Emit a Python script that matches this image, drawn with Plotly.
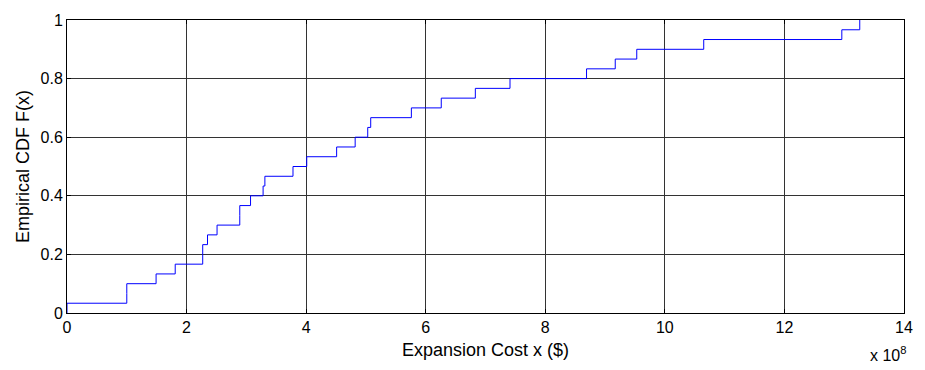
import numpy as np
import plotly.graph_objects as go

# Sampled expansion costs, in units of 1e8 $
costs = [0.0, 1.00, 1.00, 1.49, 1.81, 2.27, 2.27, 2.35, 2.51, 2.89, 2.89,
         3.07, 3.28, 3.31, 3.78, 4.01, 4.51, 4.82, 5.03, 5.08, 5.76, 6.26,
         6.83, 7.41, 8.69, 9.17, 9.53, 10.65, 12.96, 13.26]

x_ticks = [0, 2, 4, 6, 8, 10, 12, 14]
y_ticks = [0, 0.2, 0.4, 0.6, 0.8, 1]
y_tick_text = ["0", "0.2", "0.4", "0.6", "0.8", "1"]

# Empirical CDF as a staircase: F = 0 at the minimum, then k/n after each sample
xs = np.sort(np.asarray(costs))
n = len(xs)
stair_x = np.concatenate([[xs[0]], xs])
stair_y = np.concatenate([[0.0], np.arange(1, n + 1) / n])

font = "Liberation Sans, Arial, Helvetica, sans-serif"

fig = go.Figure()
fig.add_trace(go.Scatter(
    x=stair_x, y=stair_y, mode="lines", line_shape="hv",
    line=dict(color="#0000ff", width=1), showlegend=False, hoverinfo="x+y"))

axis_common = dict(
    showline=True, linecolor="black", linewidth=1, mirror="ticks",
    ticks="inside", ticklen=4, tickcolor="black",
    showgrid=True, gridcolor="#333333", gridwidth=1,
    zeroline=False, tickfont=dict(family=font, size=16, color="black"),
)

fig.update_xaxes(range=[0, 14], tickvals=x_ticks, **axis_common)
fig.update_yaxes(range=[0, 1], tickvals=y_ticks, ticktext=y_tick_text,
                 title=dict(text="Empirical CDF F(x)", standoff=6,
                            font=dict(family=font, size=18, color="black")),
                 **axis_common)

# x-axis title, sitting close under the tick labels
fig.add_annotation(text="Expansion Cost x ($)", xref="paper", yref="paper",
                   x=0.5, y=-0.085, xanchor="center", yanchor="top",
                   showarrow=False, font=dict(family=font, size=18, color="black"))

# exponent multiplier for the x axis
fig.add_annotation(text="x 10<sup>8</sup>", xref="paper", yref="paper",
                   x=1.0, y=-0.1, xanchor="right", yanchor="top", xshift=4,
                   showarrow=False, font=dict(family=font, size=16, color="black"))

fig.update_layout(
    width=925, height=370,
    margin=dict(l=67, r=17, t=14, b=57),
    paper_bgcolor="white", plot_bgcolor="white",
)

fig.write_html("out.html")
